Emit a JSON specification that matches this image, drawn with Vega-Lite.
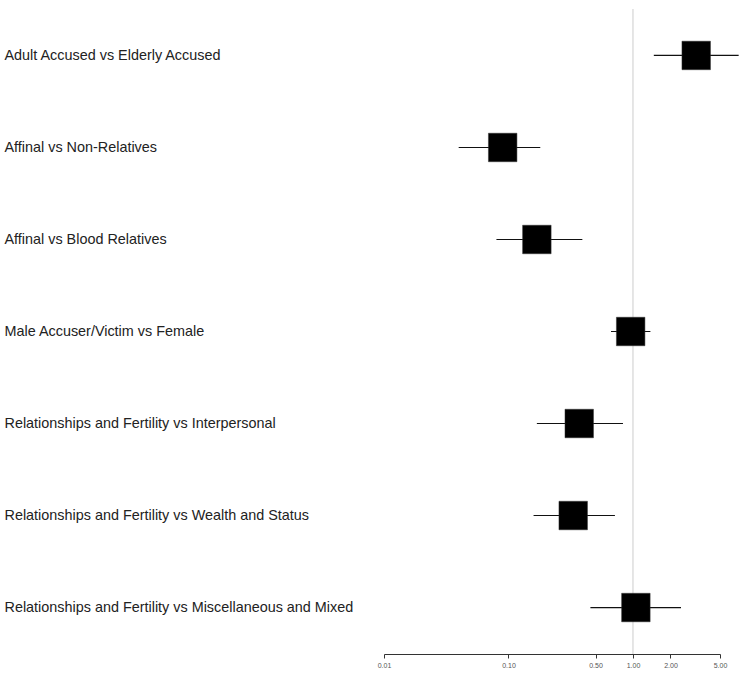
{
  "$schema": "https://vega.github.io/schema/vega-lite/v6.json",
  "autosize": "none",
  "padding": {"left": 384, "top": 9, "right": 29, "bottom": 25},
  "width": 336,
  "height": 645,
  "background": "white",
  "config": {"view": {"stroke": null}},
  "datasets": {
    "rows": [
      {"order": 1, "label": "Adult Accused vs Elderly Accused", "est": 3.22, "lower": 1.47, "upper": 7.06},
      {"order": 2, "label": "Affinal vs Non-Relatives", "est": 0.0898, "lower": 0.0398, "upper": 0.18},
      {"order": 3, "label": "Affinal vs Blood Relatives", "est": 0.169, "lower": 0.08, "upper": 0.392},
      {"order": 4, "label": "Male Accuser/Victim vs Female", "est": 0.958, "lower": 0.666, "upper": 1.38},
      {"order": 5, "label": "Relationships and Fertility vs Interpersonal", "est": 0.37, "lower": 0.169, "upper": 0.831},
      {"order": 6, "label": "Relationships and Fertility vs Wealth and Status", "est": 0.331, "lower": 0.159, "upper": 0.716},
      {"order": 7, "label": "Relationships and Fertility vs Miscellaneous and Mixed", "est": 1.055, "lower": 0.455, "upper": 2.43}
    ],
    "ref": [{"value": 1}]
  },
  "layer": [
    {
      "data": {"name": "ref"},
      "mark": {"type": "rule", "color": "#cccccc", "strokeWidth": 1},
      "encoding": {
        "x": {"field": "value", "type": "quantitative", "scale": {"type": "log", "domain": [0.01, 5], "nice": false, "zero": false}}
      }
    },
    {
      "data": {"name": "rows"},
      "mark": {"type": "rule", "color": "#111111", "strokeWidth": 1.2},
      "encoding": {
        "y": {"field": "label", "type": "nominal", "sort": {"field": "order"}},
        "x": {"field": "lower", "type": "quantitative"},
        "x2": {"field": "upper"}
      }
    },
    {
      "data": {"name": "rows"},
      "mark": {"type": "point", "shape": "square", "filled": true, "color": "black", "size": 812, "opacity": 1, "stroke": "#333333", "strokeWidth": 0.5},
      "encoding": {
        "y": {
          "field": "label", "type": "nominal", "sort": {"field": "order"},
          "scale": {"type": "point", "padding": 0.505},
          "axis": {"title": null, "domain": false, "ticks": false, "labelAlign": "left", "labelPadding": 380, "labelFontSize": 14.4, "labelFont": "Liberation Sans", "labelColor": "#222222", "labelLimit": 0}
        },
        "x": {
          "field": "est", "type": "quantitative",
          "scale": {"type": "log", "domain": [0.01, 5], "nice": false, "zero": false},
          "axis": {"title": null, "values": [0.01, 0.1, 0.5, 1, 2, 5], "format": ".2f", "grid": false, "labelFontSize": 7, "labelFont": "Liberation Sans", "labelColor": "#555555", "tickSize": 4, "tickColor": "#333333", "domainColor": "#333333", "labelPadding": 3, "labelFlush": false}
        }
      }
    }
  ]
}
